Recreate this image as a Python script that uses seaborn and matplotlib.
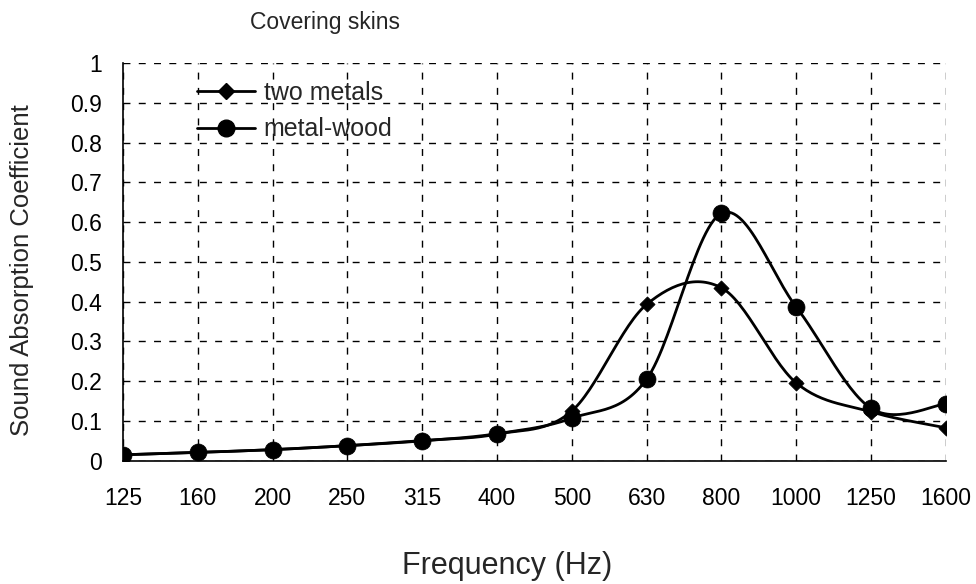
import numpy as np
import pandas as pd
import matplotlib
matplotlib.use("Agg")
import matplotlib.pyplot as plt
from matplotlib.lines import Line2D
import seaborn as sns

# ---- data ----
frequencies = ["125", "160", "200", "250", "315", "400", "500", "630", "800", "1000", "1250", "1600"]
two_metals = [0.015, 0.021, 0.028, 0.038, 0.051, 0.067, 0.125, 0.393, 0.435, 0.196, 0.123, 0.083]
metal_wood = [0.015, 0.021, 0.028, 0.038, 0.050, 0.068, 0.107, 0.205, 0.622, 0.387, 0.132, 0.143]
series_names = ["two metals", "metal-wood"]
y_ticks = [0, 0.1, 0.2, 0.3, 0.4, 0.5, 0.6, 0.7, 0.8, 0.9, 1]
y_tick_labels = ["0", "0.1", "0.2", "0.3", "0.4", "0.5", "0.6", "0.7", "0.8", "0.9", "1"]


def smooth(xs, ys, n=30):
    """Excel-style smoothed line (Catmull-Rom Bezier) through the points."""
    xs = np.asarray(xs, float)
    ys = np.asarray(ys, float)
    px = np.concatenate([[xs[0]], xs, [xs[-1]]])
    py = np.concatenate([[ys[0]], ys, [ys[-1]]])
    ox, oy = [], []
    t = np.linspace(0, 1, n)
    for i in range(1, len(px) - 2):
        p0 = np.array([px[i], py[i]])
        p3 = np.array([px[i + 1], py[i + 1]])
        p1 = p0 + (np.array([px[i + 1], py[i + 1]]) - np.array([px[i - 1], py[i - 1]])) / 6
        p2 = p3 - (np.array([px[i + 2], py[i + 2]]) - np.array([px[i], py[i]])) / 6
        b = ((1 - t) ** 3)[:, None] * p0 + (3 * (1 - t) ** 2 * t)[:, None] * p1 \
            + (3 * (1 - t) * t ** 2)[:, None] * p2 + (t ** 3)[:, None] * p3
        ox.extend(b[:, 0]); oy.extend(b[:, 1])
    return np.array(ox), np.array(oy)


sns.set_theme(style="white")
plt.rcParams["font.family"] = ["Liberation Sans", "DejaVu Sans"]

fig = plt.figure(figsize=(9.76, 5.84), dpi=100)
ax = fig.add_axes([0.126, 0.211, 0.843, 0.681])

pos = np.arange(len(frequencies))
markers = {"two metals": "D", "metal-wood": "o"}
msizes = {"two metals": 60, "metal-wood": 150}
for name, vals in zip(series_names, [two_metals, metal_wood]):
    sx, sy = smooth(pos, vals)
    curve = pd.DataFrame({"x": sx, "y": sy})
    sns.lineplot(data=curve, x="x", y="y", ax=ax, color="black", lw=2.0,
                 sort=False, estimator=None)
    pts = pd.DataFrame({"x": pos, "y": vals})
    sns.scatterplot(data=pts, x="x", y="y", ax=ax, color="black",
                    marker=markers[name], s=msizes[name], edgecolor="black",
                    linewidth=0.5, zorder=5)

ax.set_xlim(0, len(frequencies) - 1)
ax.set_ylim(0, 1)
ax.set_xticks(pos)
ax.set_xticklabels(frequencies, fontsize=16.5)
ax.set_yticks(y_ticks)
ax.set_yticklabels(y_tick_labels, fontsize=16.5)
ax.tick_params(axis="x", direction="inout", length=8, width=1, pad=15, colors="black")
ax.tick_params(axis="y", direction="inout", length=8, width=1, pad=11, colors="black")
ax.grid(True, color="black", linestyle=(0, (5, 6)), linewidth=1)

for side in ["top", "right"]:
    ax.spines[side].set_visible(False)
for side in ["left", "bottom"]:
    ax.spines[side].set_color("black")
    ax.spines[side].set_linewidth(1.2)

ax.set_xlabel("Frequency (Hz)", fontsize=22, va="center")
ax.xaxis.set_label_coords((507 - 123) / 823, -(566 - 461) / 398)
ax.set_ylabel("Sound Absorption Coefficient", fontsize=18.5, va="center")
ax.yaxis.set_label_coords(-(123 - 22) / 823, (461 - 270) / 398)
fig.text(325 / 976, 1 - 22 / 584, "Covering skins", fontsize=16.5, ha="center", va="center")

handles = [
    Line2D([0], [0], color="black", lw=2, marker="D", markersize=8),
    Line2D([0], [0], color="black", lw=2, marker="o", markersize=12),
]
leg = ax.legend(handles, series_names, loc="upper left", bbox_to_anchor=(0.063, 1.012),
                frameon=False, fontsize=18, handlelength=2.3, handletextpad=0.35,
                labelspacing=0.5)

fig.savefig("out.png", dpi=100)
